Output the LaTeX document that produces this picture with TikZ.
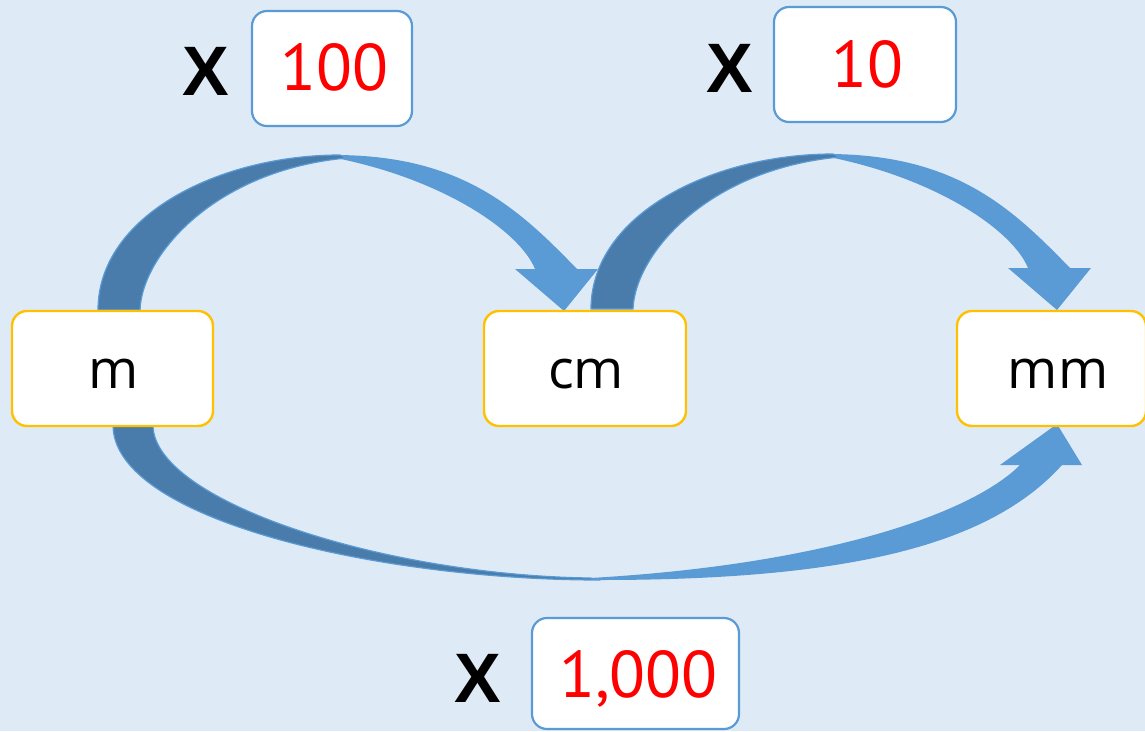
\documentclass[tikz,border=0pt]{standalone}
\usepackage{fontspec}
\setmainfont{Liberation Sans}
\newfontfamily\numfont{PT Sans}
\newfontfamily\unitfont{Open Sans}
\definecolor{bgblue}{HTML}{DEEBF7}
\definecolor{accblue}{HTML}{5B9BD5}
\definecolor{shadeblue}{HTML}{497CAA}
\definecolor{boxyellow}{HTML}{FFC000}
\definecolor{numred}{HTML}{FF0000}
\tikzset{
  unitbox/.style={draw=boxyellow, line width=2.4pt, fill=white, rounded corners=15pt, inner sep=0pt},
  numbox/.style={draw=accblue, line width=2.2pt, fill=white, rounded corners=15pt, inner sep=0pt},
  timesx/.style={font=\fontsize{70}{70}\selectfont\bfseries, anchor=base, inner sep=0pt},
  numtxt/.style={font=\numfont\fontsize{66}{66}\selectfont, text=numred, anchor=base, inner sep=0pt},
  unittxt/.style={font=\unitfont\fontsize{54}{54}\selectfont, anchor=base, inner sep=0pt},
  lightarr/.style={fill=accblue},
  darkarr/.style={fill=shadeblue, draw=accblue, line width=1.2pt, line join=round},
  toparrow/.pic={
    \fill[lightarr] (330,155) .. controls (460,154) and (517,207) .. (577,269)
      -- (598,269) -- (564,311) -- (515,269) -- (535,269)
      .. controls (520,232) and (445,180) .. (336,158) -- cycle;
    \filldraw[darkarr] (98,310) .. controls (98,215) and (220,155) .. (340,155)
      -- (347,158) .. controls (215,170) and (142,255) .. (140,310) -- cycle;
  }
}
\begin{document}
\begin{tikzpicture}[x=1pt,y=-1pt]
\useasboundingbox (0,0) rectangle (1145,731);
\fill[bgblue] (0,0) rectangle (1145,731);

% curved block arrows
\pic at (0,0) {toparrow};
\pic at (493,-1) {toparrow};
\fill[lightarr] (600,580) .. controls (850,580) and (990,545) .. (1062,465)
  -- (1082,465) -- (1057,424) -- (1000,465) -- (1020,465)
  .. controls (970,515) and (820,565) .. (590,578) -- cycle;
\filldraw[darkarr] (113,425) .. controls (113,520) and (380,580) .. (600,580)
  -- (590,578) .. controls (380,575) and (153,500) .. (153,425) -- cycle;

% unit boxes
\node[unitbox, minimum width=201pt, minimum height=115pt] (m) at (112.5,368.5) {};
\node[unitbox, minimum width=202pt, minimum height=115pt] (cm) at (585,368.5) {};
\node[unitbox, minimum width=189pt, minimum height=115pt] (mm) at (1051.5,368.5) {};
\node[unittxt] (mtxt) at (114,388) {m};
\node[unittxt] (cmtxt) at (586,388) {cm};
\node[unittxt] (mmtxt) at (1058,388) {mm};

% multiplier boxes
\node[numbox, minimum width=160pt, minimum height=115pt] (hundred) at (332,68.5) {};
\node[numbox, minimum width=182pt, minimum height=115pt] (ten) at (865,64.5) {};
\node[numbox, minimum width=207pt, minimum height=111pt] (thousand) at (635.5,673.5) {};
\node[numtxt] (hundredtxt) at (334.5,90) {100};
\node[numtxt] (tentxt) at (867,87) {10};
\node[numtxt] (thousandtxt) at (638.5,697) {1,000};

% times signs
\node[timesx] (x1) at (205.5,95) {X};
\node[timesx] (x2) at (730,92) {X};
\node[timesx] (x3) at (478,702) {X};
\end{tikzpicture}
\end{document}
